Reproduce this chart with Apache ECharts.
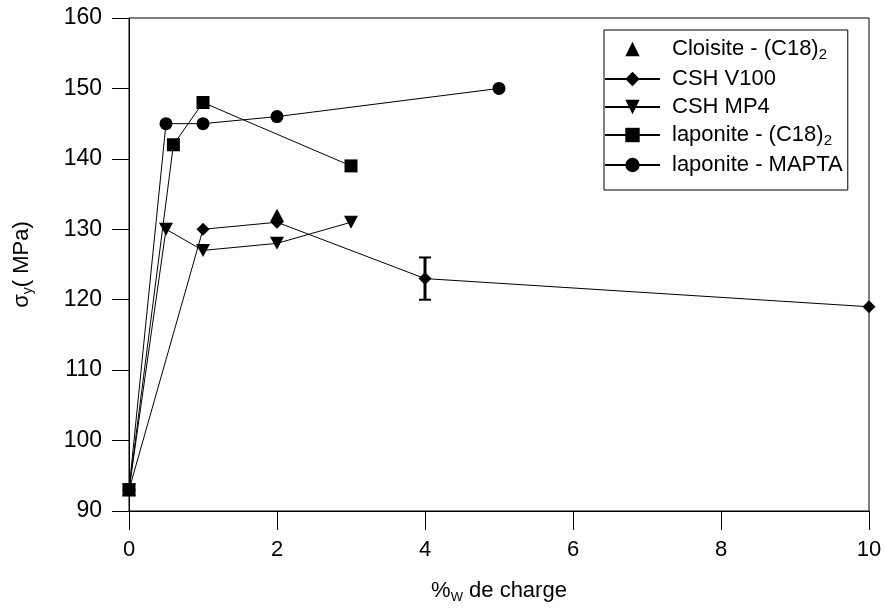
<!DOCTYPE html>
<html>
<head>
<meta charset="utf-8">
<script src="https://cdn.jsdelivr.net/npm/echarts@6/dist/echarts.min.js"></script>
<style>
html,body{margin:0;padding:0;background:#fff;}
#chart{width:885px;height:610px;}
</style>
</head>
<body>
<div id="chart"></div>
<script>
// ---- data ----
const seriesNames = ['Cloisite - (C18)2', 'CSH V100', 'CSH MP4', 'laponite - (C18)2', 'laponite - MAPTA'];
const cloisiteX = [0, 2];
const cloisiteY = [93, 132];
const v100X = [0, 1, 2, 4, 10];
const v100Y = [93, 130, 131, 123, 119];
const mp4X = [0, 0.5, 1, 2, 3];
const mp4Y = [93, 130, 127, 128, 131];
const lapC18X = [0, 0.6, 1, 3];
const lapC18Y = [93, 142, 148, 139];
const maptaX = [0, 0.5, 1, 2, 5];
const maptaY = [93, 145, 145, 146, 150];
// error bar on CSH V100 at x = 4
const errX = [4];
const errLow = [120];
const errHigh = [126];
const xTicks = [0, 2, 4, 6, 8, 10];
const yTicks = [90, 100, 110, 120, 130, 140, 150, 160];

const zip = (xs, ys) => xs.map((x, i) => [x, ys[i]]);
const FONT = 'Liberation Sans, Arial, sans-serif';

const legendRich = {
  m: { fontSize: 22, fontFamily: FONT, color: '#000', lineHeight: 26, verticalAlign: 'middle' },
  s: { fontSize: 15, fontFamily: FONT, color: '#000', lineHeight: 15, verticalAlign: 'bottom' }
};
const legendLabel = {
  'Cloisite - (C18)2': '{m|Cloisite - (C18)}{s|2}',
  'CSH V100': '{m|CSH V100}',
  'CSH MP4': '{m|CSH MP4}',
  'laponite - (C18)2': '{m|laponite - (C18)}{s|2}',
  'laponite - MAPTA': '{m|laponite - MAPTA}'
};

const chart = echarts.init(document.getElementById('chart'), null, { renderer: 'canvas' });

const lineBase = {
  type: 'line',
  color: '#000',
  lineStyle: { color: '#000', width: 1 },
  itemStyle: { color: '#000', opacity: 1 },
  showSymbol: true,
  animation: false
};

const option = {
  animation: false,
  backgroundColor: '#fff',
  grid: {
    left: 129, right: 16, top: 18, bottom: 99,
    show: true, borderColor: '#000', borderWidth: 1
  },
  xAxis: {
    type: 'value',
    min: 0, max: 10, interval: 2,
    name: '%{s|W} de charge',
    nameLocation: 'middle',
    nameGap: 67,
    nameTextStyle: {
      fontSize: 22, fontFamily: FONT, color: '#000',
      rich: {
        s: { fontSize: 13, fontFamily: FONT, color: '#000', verticalAlign: 'bottom', lineHeight: 13 }
      },
      lineHeight: 26
    },
    axisLine: { show: true, onZero: false, lineStyle: { color: '#000', width: 1 } },
    axisTick: { show: true, inside: false, length: 19, lineStyle: { color: '#000', width: 1 } },
    axisLabel: {
      fontSize: 22, fontFamily: FONT, color: '#000', margin: 28,
      formatter: v => (xTicks.indexOf(v) >= 0 ? String(v) : '')
    },
    splitLine: { show: false }
  },
  yAxis: {
    type: 'value',
    min: 90, max: 160, interval: 10,
    name: 'σ{s|y}( MPa)',
    nameLocation: 'middle',
    nameGap: 94,
    nameTextStyle: {
      fontSize: 22, fontFamily: FONT, color: '#000',
      rich: {
        s: { fontSize: 14, fontFamily: FONT, color: '#000', verticalAlign: 'bottom', lineHeight: 14 }
      },
      lineHeight: 26
    },
    axisLine: { show: true, onZero: false, lineStyle: { color: '#000', width: 1 } },
    axisTick: { show: true, inside: false, length: 17, lineStyle: { color: '#000', width: 1 } },
    axisLabel: {
      fontSize: 23, fontFamily: FONT, color: '#000', margin: 27,
      formatter: v => (yTicks.indexOf(v) >= 0 ? String(v) : '')
    },
    splitLine: { show: false }
  },
  legend: {
    data: seriesNames,
    orient: 'vertical',
    left: 604, top: 30,
    padding: [8, 5, 14, 0],
    itemGap: 6,
    itemWidth: 55,
    itemHeight: 18,
    borderColor: '#000',
    borderWidth: 1,
    backgroundColor: '#fff',
    selectedMode: false,
    formatter: n => legendLabel[n],
    textStyle: { fontSize: 22, fontFamily: FONT, color: '#000', rich: legendRich, padding: [0, 0, 0, 7] }
  },
  series: [
    Object.assign({}, lineBase, {
      name: seriesNames[0],
      data: zip(cloisiteX, cloisiteY),
      symbol: 'triangle',
      symbolSize: [14, 13],
      lineStyle: { color: '#000', width: 0, opacity: 0 },
      z: 2
    }),
    Object.assign({}, lineBase, {
      name: seriesNames[1],
      data: zip(v100X, v100Y),
      symbol: 'diamond',
      symbolSize: [13, 13],
      z: 3
    }),
    Object.assign({}, lineBase, {
      name: seriesNames[2],
      data: zip(mp4X, mp4Y),
      symbol: 'triangle',
      symbolRotate: 180,
      symbolSize: [14, 13],
      z: 3
    }),
    Object.assign({}, lineBase, {
      name: seriesNames[4],
      data: zip(maptaX, maptaY),
      symbol: 'circle',
      symbolSize: 13,
      z: 3
    }),
    Object.assign({}, lineBase, {
      name: seriesNames[3],
      data: zip(lapC18X, lapC18Y),
      symbol: 'rect',
      symbolSize: 13,
      z: 4
    }),
    {
      type: 'custom',
      name: 'errorbar',
      data: errX.map((x, i) => [x, errLow[i], errHigh[i]]),
      z: 5,
      renderItem: function (params, api) {
        const x = api.value(0);
        const lo = api.coord([x, api.value(1)]);
        const hi = api.coord([x, api.value(2)]);
        const cap = 6;
        return {
          type: 'group',
          children: [
            { type: 'line', shape: { x1: lo[0], y1: lo[1], x2: hi[0], y2: hi[1] }, style: { stroke: '#000', lineWidth: 3 } },
            { type: 'line', shape: { x1: lo[0] - cap, y1: lo[1], x2: lo[0] + cap, y2: lo[1] }, style: { stroke: '#000', lineWidth: 2 } },
            { type: 'line', shape: { x1: hi[0] - cap, y1: hi[1], x2: hi[0] + cap, y2: hi[1] }, style: { stroke: '#000', lineWidth: 2 } }
          ]
        };
      }
    }
  ]
};
chart.setOption(option);
</script>
</body>
</html>
